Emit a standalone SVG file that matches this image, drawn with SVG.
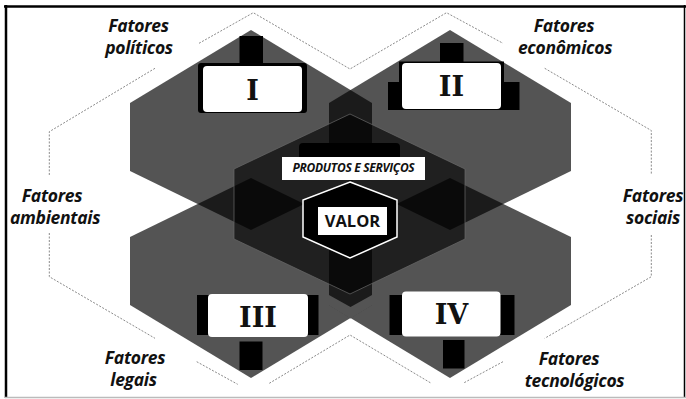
<svg xmlns="http://www.w3.org/2000/svg" width="686" height="399" viewBox="0 0 686 399">
<style>
.hex{fill:#000;fill-opacity:.67}
.core{fill:#000;fill-opacity:.62;stroke:#6a6a6a;stroke-opacity:.7;stroke-width:1}
.blk{fill:#000}
.wht{fill:#fff}
.num{font-family:"DejaVu Serif","Liberation Serif",serif;font-weight:700;font-size:27px;text-anchor:middle;fill:#111}
.lbl{font-family:"Open Sans","Liberation Sans",sans-serif;font-weight:700;font-style:italic;font-size:17.5px;letter-spacing:-0.3px;text-anchor:middle;fill:#111}
.dot{fill:none;stroke:#8a8a8a;stroke-width:1;stroke-dasharray:2 1.5}
</style>
<rect x="0" y="0" width="686" height="399" fill="#fff"/>
<g id="frame">
<line x1="4" y1="6.5" x2="686" y2="6.5" stroke="#000" stroke-width="2.5"/>
<line x1="6" y1="5" x2="6" y2="398" stroke="#000" stroke-width="2.5"/>
<line x1="684.5" y1="5" x2="684.5" y2="398" stroke="#000" stroke-width="1.5"/>
<line x1="5" y1="397.5" x2="686" y2="397.5" stroke="#bbb" stroke-width="1.5"/>
</g>
<g id="outline">
<polyline class="dot" points="199,43.3 253.3,12.7 350,69 446.5,12.7 503,43.3"/>
<polyline class="dot" points="155,68.3 49.3,131.7 49.3,175"/>
<polyline class="dot" points="544.7,68.3 651.3,130.5 651.3,175"/>
<polyline class="dot" points="49.3,233 49.3,276.7 155,338.3"/>
<polyline class="dot" points="651.3,235 651.3,276.7 544.7,338.3"/>
<polyline class="dot" points="196.7,361.7 237.7,384.3"/>
<polyline class="dot" points="269.3,383.3 350,335 431.3,383.3"/>
<polyline class="dot" points="503,361.7 463,383.3"/>
</g>
<g id="hexagons">
<polygon id="hex-I" class="hex" points="251,30 372,103 372,171 251,230 130,171 130,103"/>
<polygon id="hex-II" class="hex" points="450,30 571,103 571,171 450,230 329,171 329,103"/>
<polygon id="hex-III" class="hex" points="251,178 372,237 372,305 251,378 130,305 130,237"/>
<polygon id="hex-IV" class="hex" points="450,178 571,237 571,305 450,378 329,305 329,237"/>
<polygon fill="#545454" points="329,295 350.5,307 372,295 372,305.5 350.5,318.5 329,305.5"/>
</g>
<g id="node-core">
<polygon class="core" points="350,114 465,169 465,239 350,294 234,239 234,169"/>
<rect class="blk" x="299" y="143" width="101" height="18" rx="4"/>
<rect class="wht" x="282" y="157" width="143" height="23"/>
<text x="353.5" y="172" font-family="Open Sans, Liberation Sans, sans-serif" font-weight="700" font-style="italic" font-size="12" letter-spacing="-0.3" text-anchor="middle" fill="#111">PRODUTOS E SERVIÇOS</text>
</g>
<g id="node-valor">
<polygon points="350,182 397,200 397,237 350,258 303,237 303,200" fill="#000" stroke="#fff" stroke-width="1.5"/>
<rect class="wht" x="318" y="207" width="69" height="28"/>
<text x="352.5" y="227" font-family="Open Sans, Liberation Sans, sans-serif" font-weight="700" font-size="16.5" text-anchor="middle" fill="#111">VALOR</text>
</g>
<g id="node-I">
<rect class="blk" x="239.5" y="36" width="23.5" height="30"/>
<rect class="blk" x="198" y="63" width="109" height="50" rx="3"/>
<rect class="wht" x="203" y="66" width="99" height="46" rx="4"/>
<text class="num" x="252.5" y="99.5">I</text>
</g>
<g id="node-II">
<rect class="blk" x="440" y="43" width="23.5" height="20"/>
<polygon class="blk" points="388,82 399,82 399,61.5 504,61.5 504,82 519.5,82 519.5,110 388,110"/>
<rect class="wht" x="402" y="63" width="99" height="46" rx="4"/>
<text class="num" x="451.5" y="96">II</text>
</g>
<g id="node-III">
<rect class="blk" x="197" y="295" width="12" height="40"/>
<rect class="blk" x="307" y="295" width="11.5" height="40"/>
<rect class="wht" x="208" y="294" width="100" height="43" rx="4"/>
<rect class="blk" x="239.5" y="341.5" width="23" height="28.5"/>
<text class="num" x="258" y="326.5">III</text>
</g>
<g id="node-IV">
<rect class="blk" x="389.5" y="295" width="13" height="40"/>
<rect class="blk" x="500" y="295" width="14.5" height="40"/>
<rect class="wht" x="402" y="291.5" width="98.5" height="45" rx="4"/>
<rect class="blk" x="443" y="340" width="21.5" height="28.5"/>
<text class="num" x="451.5" y="324">IV</text>
</g>
<g id="labels">
<g id="lbl-politicos"><text class="lbl" x="138.5" y="31.5">Fatores</text><text class="lbl" x="139" y="53.5">políticos</text></g>
<g id="lbl-economicos"><text class="lbl" x="564" y="31.5">Fatores</text><text class="lbl" x="565" y="53.5">econômicos</text></g>
<g id="lbl-ambientais"><text class="lbl" x="52" y="201.5">Fatores</text><text class="lbl" x="55" y="223.5">ambientais</text></g>
<g id="lbl-sociais"><text class="lbl" x="653" y="201.5">Fatores</text><text class="lbl" x="653" y="223.5">sociais</text></g>
<g id="lbl-legais"><text class="lbl" x="135" y="363.5">Fatores</text><text class="lbl" x="133.5" y="385.5">legais</text></g>
<g id="lbl-tecnologicos"><text class="lbl" x="569" y="365">Fatores</text><text class="lbl" x="574.5" y="387">tecnológicos</text></g>
</g>
</svg>
